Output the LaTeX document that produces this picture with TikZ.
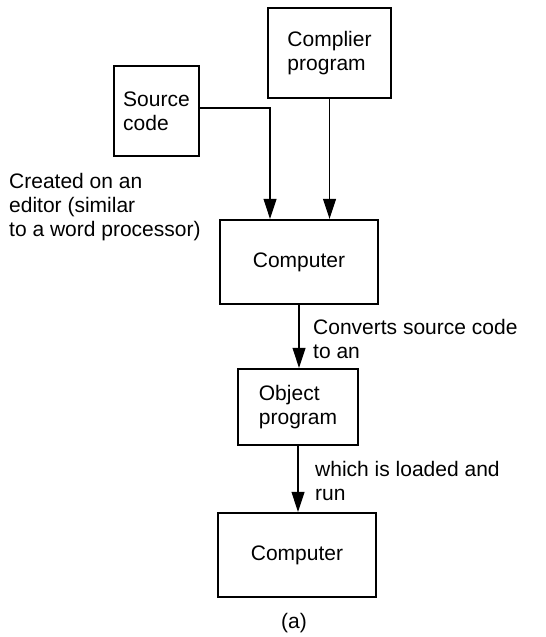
\documentclass[tikz,border=0pt]{standalone}
\usepackage{fontspec}
\setmainfont{Liberation Sans}
\usetikzlibrary{arrows.meta}
\begin{document}
\begin{tikzpicture}[x=1pt,y=-1pt,
  font=\fontsize{21}{24}\selectfont,
  box/.style={draw, line width=2.4pt, align=left, inner sep=0pt},
  lbl/.style={align=left, anchor=base west, inner sep=0pt},
  flow/.style={line width=1.1pt, -{Triangle[length=20pt,width=13pt]}}]
\useasboundingbox (0,0) rectangle (546,637);

% boxes
\node[box, minimum width=123pt, minimum height=90pt] (cmp) at (329.5,53) {Complier\\program};
\node[box, minimum width=85pt, minimum height=90pt] (src) at (156.5,111) {Source\\code};
\node[box, minimum width=158pt, minimum height=84pt] (comp1) at (299,262) {Computer};
\node[box, minimum width=120pt, minimum height=76pt] (obj) at (298,407) {Object\\program};
\node[box, minimum width=158pt, minimum height=84pt] (comp2) at (297,555) {Computer};

% explanatory texts (anchored at the baseline of their last line)
\node[lbl] (created) at (9,236) {Created on an\\editor (similar\\to a word processor)};
\node[lbl] (converts) at (313,358) {Converts source code\\to an};
\node[lbl] (loaded) at (315,500) {which is loaded and\\run};
\node[anchor=base, inner sep=0pt] (caption) at (294,628) {(a)};

% connectors
\draw[flow] ([yshift=3pt]src.east) -| ([xshift=-29pt]comp1.north);
\draw[flow] (cmp.south) -- (cmp.south |- comp1.north);
\draw[flow] (comp1.south) -- (comp1.south |- obj.north);
\draw[flow] (obj.south) -- (obj.south |- comp2.north);
\end{tikzpicture}
\end{document}
